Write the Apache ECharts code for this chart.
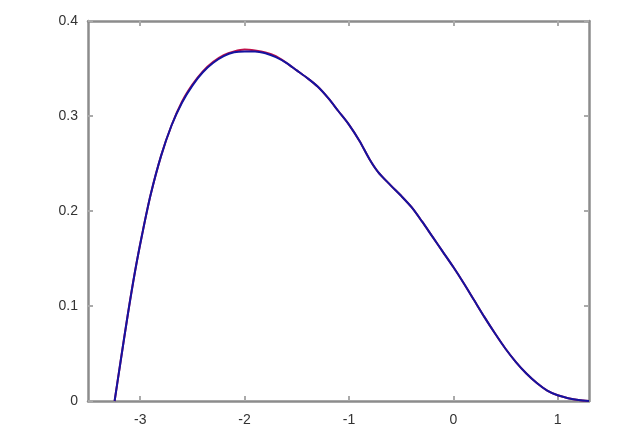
<!DOCTYPE html>
<html>
<head>
<meta charset="utf-8">
<script src="https://cdn.jsdelivr.net/npm/echarts@6/dist/echarts.min.js"></script>
<style>
  html, body { margin: 0; padding: 0; background: #fff; }
  #chart { width: 623px; height: 436px; }
</style>
</head>
<body>
<div id="chart"></div>
<script>
// values
var xValues = [-3.245, -3.19, -3.12, -3.05, -2.98, -2.90, -2.80, -2.70, -2.60, -2.50, -2.40, -2.30, -2.20,
               -2.10, -2.00, -1.90, -1.80, -1.70, -1.60, -1.50, -1.40, -1.30, -1.20, -1.10, -1.00,
               -0.90, -0.80, -0.72, -0.60, -0.50, -0.40, -0.30, -0.20, -0.10, 0.00, 0.10, 0.20,
               0.30, 0.40, 0.50, 0.60, 0.70, 0.80, 0.90, 1.00, 1.10, 1.20, 1.30];
var redValues = [0, 0.040, 0.090, 0.136, 0.176, 0.217, 0.258, 0.290, 0.315, 0.333, 0.347, 0.357, 0.364,
                 0.368, 0.370, 0.369, 0.367, 0.363, 0.356, 0.348, 0.340, 0.331, 0.319, 0.305, 0.291,
                 0.274, 0.254, 0.241, 0.227, 0.216, 0.204, 0.189, 0.173, 0.157, 0.141, 0.124, 0.106,
                 0.088, 0.071, 0.055, 0.041, 0.029, 0.019, 0.011, 0.006, 0.003, 0.001, 0];
var blueValues = [0, 0.040, 0.090, 0.136, 0.176, 0.217, 0.258, 0.290, 0.314, 0.332, 0.346, 0.356, 0.363,
                  0.367, 0.368, 0.368, 0.366, 0.362, 0.356, 0.348, 0.340, 0.331, 0.319, 0.305, 0.291,
                  0.274, 0.254, 0.241, 0.227, 0.216, 0.204, 0.189, 0.173, 0.157, 0.141, 0.124, 0.106,
                  0.088, 0.071, 0.055, 0.041, 0.029, 0.019, 0.011, 0.006, 0.003, 0.001, 0];
var xTickValues = [-3, -2, -1, 0, 1];
var xRange = {min: -3.5, max: 1.3};
var yRange = {min: 0, max: 0.4, interval: 0.1};

function pairs(ys) {
    return xValues.map(function (x, i) { return [x, ys[i]]; });
}

var axisGray = '#8c8c8c';
var tickStyle = { color: '#aaa', width: 2 };
var labelStyle = { color: '#333', fontFamily: 'Liberation Sans', fontSize: 14 };

var chart = echarts.init(document.getElementById('chart'));
var option = {
    animation: false,
    grid: { left: 88, right: 34, top: 21, bottom: 35 },
    xAxis: [
        {
            type: 'value', min: xRange.min, max: xRange.max,
            axisLabel: Object.assign({ margin: 12, customValues: xTickValues }, labelStyle),
            axisTick: { inside: true, length: 5, customValues: xTickValues, lineStyle: tickStyle },
            axisLine: { onZero: false, lineStyle: { color: axisGray, width: 2.5 } },
            splitLine: { show: false }
        },
        {
            type: 'value', position: 'top', min: xRange.min, max: xRange.max,
            axisLabel: { show: false },
            axisTick: { inside: true, length: 5, customValues: xTickValues, lineStyle: tickStyle },
            axisLine: { onZero: false, lineStyle: { color: axisGray, width: 2.5 } },
            splitLine: { show: false }
        }
    ],
    yAxis: [
        {
            type: 'value', min: yRange.min, max: yRange.max, interval: yRange.interval,
            axisLabel: Object.assign({ margin: 10, formatter: function (v) { return String(+v.toFixed(1)); } }, labelStyle),
            axisTick: { inside: true, length: 5, lineStyle: tickStyle },
            axisLine: { show: true, onZero: false, lineStyle: { color: axisGray, width: 2.5 } },
            splitLine: { show: false }
        },
        {
            type: 'value', position: 'right', min: yRange.min, max: yRange.max, interval: yRange.interval,
            axisLabel: { show: false },
            axisTick: { inside: true, length: 5, lineStyle: tickStyle },
            axisLine: { show: true, onZero: false, lineStyle: { color: axisGray, width: 2.5 } },
            splitLine: { show: false }
        }
    ],
    series: [
        {
            name: 'red', type: 'line', data: pairs(redValues), smooth: 0.3, symbol: 'none',
            lineStyle: { color: '#c0104a', width: 2 }
        },
        {
            name: 'blue', type: 'line', data: pairs(blueValues), smooth: 0.3, symbol: 'none',
            lineStyle: { color: '#1414a0', width: 2 }
        }
    ]
};
chart.setOption(option);
</script>
</body>
</html>
